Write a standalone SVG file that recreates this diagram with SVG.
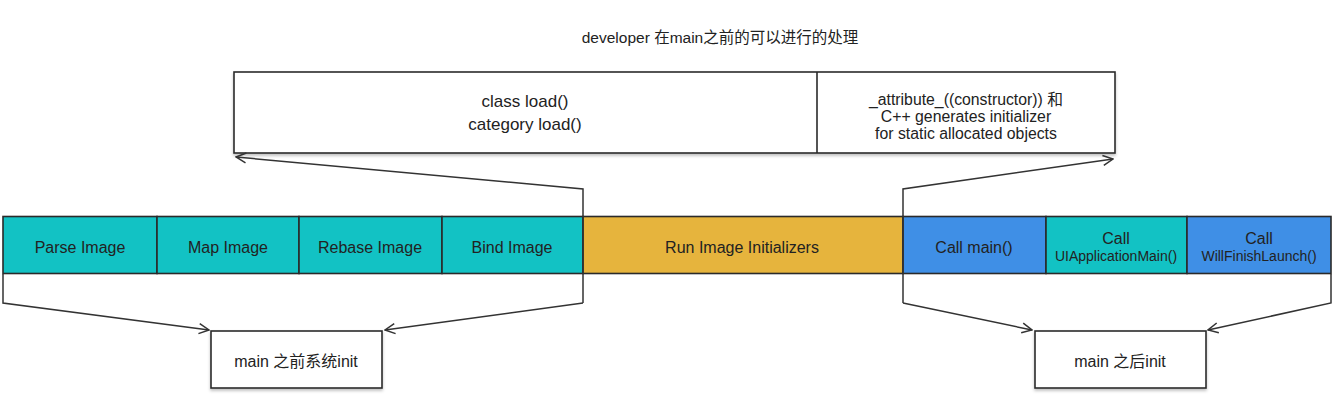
<svg xmlns="http://www.w3.org/2000/svg" width="1339" height="403" viewBox="0 0 1339 403">
<style>
text{font-family:"Liberation Sans","Noto Sans CJK SC",Arial,sans-serif;fill:#222;text-anchor:middle}
.box{fill:#fff;stroke:#2a2a2a;stroke-width:1.6}
.seg{stroke:#2a2a2a;stroke-width:1.6}
.teal{fill:#12c2c4}
.gold{fill:#e6b43d}
.blue{fill:#3f8fe6}
.lbl{font-size:16px}
.sm{font-size:14px}
.tr{font-size:15.8px}
.con{fill:none;stroke:#333;stroke-width:1.5}
</style>
<defs>
<marker id="arr" viewBox="0 0 12 12" refX="11" refY="6" markerWidth="12" markerHeight="12" markerUnits="userSpaceOnUse" orient="auto">
<path d="M1,1 L11,6 L1,11" fill="none" stroke="#333" stroke-width="1.5"/>
</marker>
<filter id="sh" x="-5%" y="-10%" width="110%" height="130%">
<feDropShadow dx="0" dy="2" stdDeviation="1.5" flood-color="#000" flood-opacity="0.25"/>
</filter>
</defs>
<rect width="1339" height="403" fill="#fff"/>
<text x="720" y="43" style="font-size:15.5px">developer 在main之前的可以进行的处理</text>

<g id="top-box">
<rect class="box" x="234" y="72" width="881" height="81" filter="url(#sh)"/>
<line class="seg" x1="817" y1="72" x2="817" y2="153"/>
<text x="525" y="107" style="font-size:17px">class load()</text>
<text x="525" y="130" style="font-size:17px">category load()</text>
<text class="tr" x="966" y="105">_attribute_((constructor)) 和</text>
<text class="tr" x="966" y="122">C++ generates initializer</text>
<text class="tr" x="966" y="139">for static allocated objects</text>
</g>

<g id="bar">
<g id="parse"><rect class="teal seg" x="3" y="216.5" width="154" height="57"/><text class="lbl" x="80" y="253">Parse Image</text></g>
<g id="map"><rect class="teal seg" x="157" y="216.5" width="142" height="57"/><text class="lbl" x="228" y="253">Map Image</text></g>
<g id="rebase"><rect class="teal seg" x="299" y="216.5" width="143" height="57"/><text class="lbl" x="370" y="253">Rebase Image</text></g>
<g id="bind"><rect class="teal seg" x="442" y="216.5" width="141" height="57"/><text class="lbl" x="512" y="253">Bind Image</text></g>
<g id="run"><rect class="gold seg" x="583" y="216.5" width="320" height="57"/><text class="lbl" x="742" y="253">Run Image Initializers</text></g>
<g id="callmain"><rect class="blue seg" x="903" y="216.5" width="143" height="57"/><text class="lbl" x="974" y="253">Call main()</text></g>
<g id="uiapp"><rect class="teal seg" x="1046" y="216.5" width="141" height="57"/><text class="lbl" x="1116" y="244">Call</text><text class="sm" x="1116" y="261">UIApplicationMain()</text></g>
<g id="willfinish"><rect class="blue seg" x="1187" y="216.5" width="144" height="57"/><text class="lbl" x="1259" y="244">Call</text><text class="sm" x="1259" y="261">WillFinishLaunch()</text></g>
</g>

<g id="before-init">
<rect class="box" x="211" y="331" width="171" height="57" filter="url(#sh)"/>
<text x="296" y="367" style="font-size:16px">main 之前系统init</text>
</g>
<g id="after-init">
<rect class="box" x="1035" y="331" width="171" height="57" filter="url(#sh)"/>
<text x="1120" y="367" style="font-size:16px">main 之后init</text>
</g>

<g id="connectors">
<path class="con" d="M583,303 L583,189 L236,157" marker-end="url(#arr)"/>
<path class="con" d="M903,303 L903,189 L1113,159" marker-end="url(#arr)"/>
<path class="con" d="M3,274 L3,303 L209,330" marker-end="url(#arr)"/>
<path class="con" d="M583,303 L385,330" marker-end="url(#arr)"/>
<path class="con" d="M903,303 L1032,330" marker-end="url(#arr)"/>
<path class="con" d="M1331,274 L1331,303 L1208,330" marker-end="url(#arr)"/>
</g>
</svg>
